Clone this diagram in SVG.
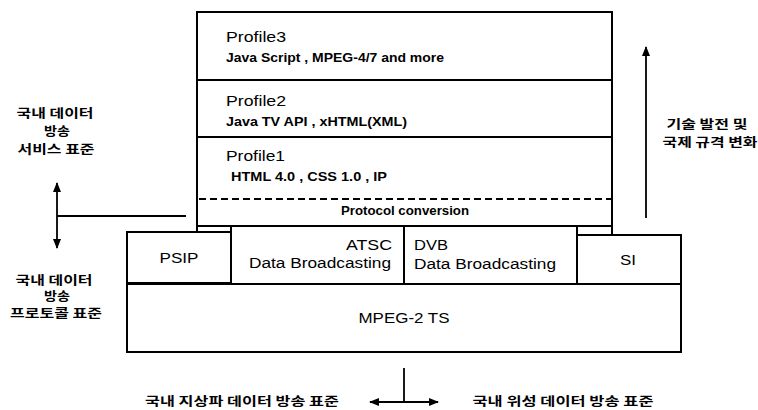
<svg xmlns="http://www.w3.org/2000/svg" width="758" height="410" viewBox="0 0 758 410">
<defs>
<style>
.box{fill:#fff;stroke:#000;stroke-width:2}
.ln{stroke:#000;stroke-width:2;fill:none}
.dash{stroke:#000;stroke-width:2;stroke-dasharray:7 4;fill:none}
.conn{stroke:#000;stroke-width:1.8;fill:none}
.t{font-family:"Liberation Sans",Arial,sans-serif;fill:#000}
.big{font-size:15.5px}
.small{font-size:12.5px;font-weight:bold}
.ko{font-family:"Noto Sans CJK KR","Noto Sans",sans-serif;font-size:12px;fill:#000;font-weight:bold}
</style>
<marker id="ah" viewBox="0 0 10 8" refX="9" refY="4" markerWidth="10" markerHeight="8" markerUnits="userSpaceOnUse" orient="auto-start-reverse">
<path d="M0,0 L10,4 L0,8 Z" fill="#000"/>
</marker>
</defs>
<rect width="758" height="410" fill="#fff"/>

<g id="profile3">
<path class="ln" d="M197,80 V12 H612 V80"/>
<text class="t big" x="226" y="42" textLength="60" lengthAdjust="spacingAndGlyphs">Profile3</text>
<text class="t small" x="226" y="62" textLength="218" lengthAdjust="spacingAndGlyphs">Java Script , MPEG-4/7 and more</text>
</g>
<g id="profile2">
<path class="ln" d="M197,137 V80 H612 V137"/>
<text class="t big" x="226" y="106" textLength="60" lengthAdjust="spacingAndGlyphs">Profile2</text>
<text class="t small" x="226" y="126" textLength="181" lengthAdjust="spacingAndGlyphs">Java TV API , xHTML(XML)</text>
</g>
<g id="profile1">
<path class="ln" d="M197,199 V137 H612 V199"/>
<text class="t big" x="226" y="161" textLength="59" lengthAdjust="spacingAndGlyphs">Profile1</text>
<text class="t small" x="231" y="181" textLength="156" lengthAdjust="spacingAndGlyphs">HTML 4.0 , CSS 1.0 , IP</text>
</g>
<g id="protocol-conversion">
<path class="ln" d="M197,199 V226 H612 V199"/>
<path class="dash" d="M199,199 H611"/>
<text class="t small" x="405" y="215" text-anchor="middle" textLength="128" lengthAdjust="spacingAndGlyphs">Protocol conversion</text>
</g>
<g id="upper-legs">
<path class="ln" d="M197,226 V232 M612,226 V235"/>
</g>

<g id="psip">
<rect class="box" x="127" y="232" width="104" height="51"/>
<text class="t big" x="179" y="263" text-anchor="middle" textLength="39" lengthAdjust="spacingAndGlyphs">PSIP</text>
</g>
<g id="atsc">
<path class="ln" d="M231,283 V226 H404 V283"/>
<text class="t big" x="392" y="250" text-anchor="end" textLength="46" lengthAdjust="spacingAndGlyphs">ATSC</text>
<text class="t big" x="391" y="268" text-anchor="end" textLength="142" lengthAdjust="spacingAndGlyphs">Data Broadcasting</text>
</g>
<g id="dvb">
<path class="ln" d="M404,226 H577 V283"/>
<text class="t big" x="414" y="250" textLength="34" lengthAdjust="spacingAndGlyphs">DVB</text>
<text class="t big" x="414" y="269" textLength="142" lengthAdjust="spacingAndGlyphs">Data Broadcasting</text>
</g>
<g id="si">
<rect class="box" x="577" y="235" width="104" height="50"/>
<text class="t big" x="628" y="265" text-anchor="middle" textLength="16" lengthAdjust="spacingAndGlyphs">SI</text>
</g>
<g id="mpeg2ts">
<rect class="box" x="127" y="284" width="554" height="68"/>
<text class="t big" x="404" y="323" text-anchor="middle" textLength="91" lengthAdjust="spacingAndGlyphs">MPEG-2 TS</text>
</g>

<g id="label-service">
<text class="ko" x="55" y="118" text-anchor="middle" textLength="77" lengthAdjust="spacingAndGlyphs">국내 데이터</text>
<text class="ko" x="57" y="136" text-anchor="middle" textLength="26" lengthAdjust="spacingAndGlyphs">방송</text>
<text class="ko" x="56" y="154" text-anchor="middle" textLength="77" lengthAdjust="spacingAndGlyphs">서비스 표준</text>
</g>
<g id="label-protocol">
<text class="ko" x="54" y="285" text-anchor="middle" textLength="77" lengthAdjust="spacingAndGlyphs">국내 데이터</text>
<text class="ko" x="57" y="301" text-anchor="middle" textLength="26" lengthAdjust="spacingAndGlyphs">방송</text>
<text class="ko" x="56" y="318" text-anchor="middle" textLength="92" lengthAdjust="spacingAndGlyphs">프로토콜 표준</text>
</g>
<g id="label-tech">
<text class="ko" x="707" y="129" text-anchor="middle" textLength="81" lengthAdjust="spacingAndGlyphs">기술 발전 및</text>
<text class="ko" x="710" y="147" text-anchor="middle" textLength="95" lengthAdjust="spacingAndGlyphs">국제 규격 변화</text>
</g>
<g id="label-terrestrial">
<text class="ko" x="242" y="406" text-anchor="middle" textLength="194" lengthAdjust="spacingAndGlyphs">국내 지상파 데이터 방송 표준</text>
</g>
<g id="label-satellite">
<text class="ko" x="563" y="406" text-anchor="middle" textLength="181" lengthAdjust="spacingAndGlyphs">국내 위성 데이터 방송 표준</text>
</g>

<g id="connectors">
<path class="conn" d="M186,216 H57"/>
<path class="conn" d="M57,216 V183" marker-end="url(#ah)"/>
<path class="conn" d="M57,216 V248" marker-end="url(#ah)"/>
<path class="conn" d="M646,218 V47" marker-end="url(#ah)"/>
<path class="conn" d="M404,368 V402"/>
<path class="conn" d="M404,402 H370" marker-end="url(#ah)"/>
<path class="conn" d="M404,402 H438" marker-end="url(#ah)"/>
</g>
</svg>
